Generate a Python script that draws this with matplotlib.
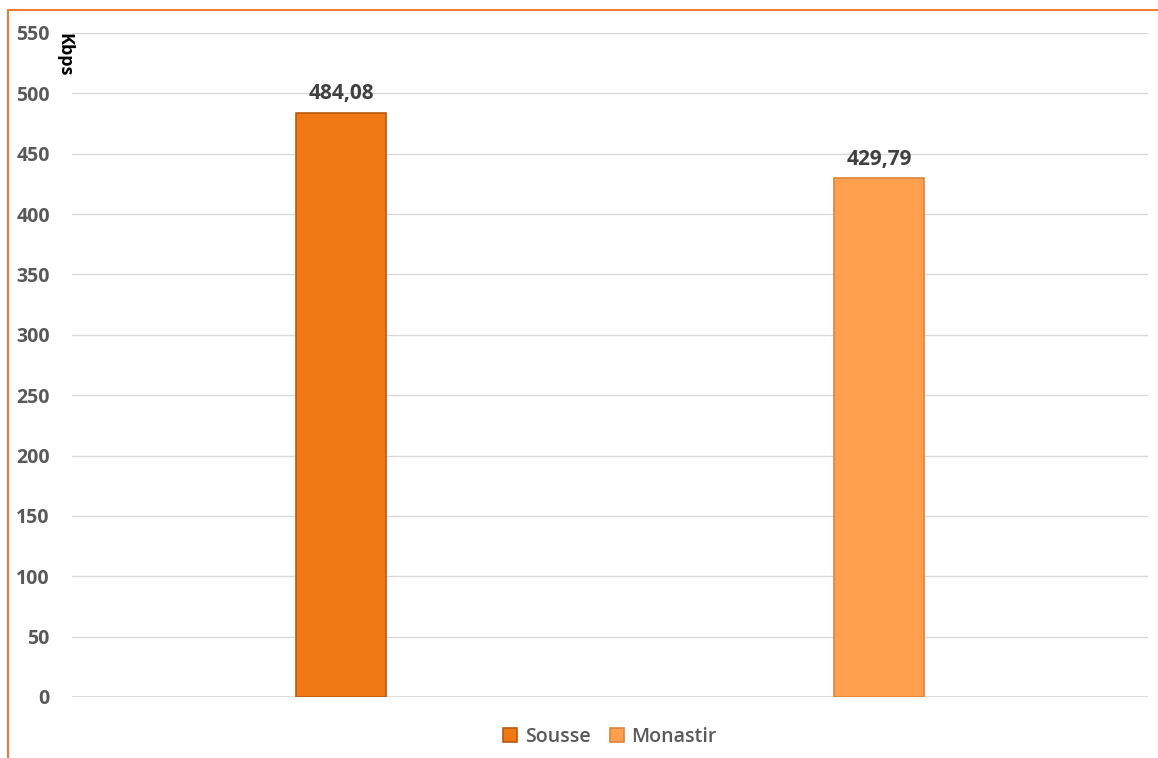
import matplotlib
matplotlib.use("Agg")
import matplotlib.pyplot as plt
from matplotlib.patches import Rectangle

plt.rcParams["font.family"] = ["Open Sans", "DejaVu Sans"]

cities = ["Sousse", "Monastir"]
debit = [484.08, 429.79]
labels = ["484,08", "429,79"]
colors = ["#F07714", "#FFA04F"]
edges = ["#B85A10", "#D98540"]
yticks = list(range(0, 551, 50))

fig = plt.figure(figsize=(11.58, 7.58), dpi=100)
ax = fig.add_axes([72 / 1158, 1 - 697 / 758, 1076 / 1158, 664 / 758])

for i, (v, c, e, lab) in enumerate(zip(debit, colors, edges, cities)):
    ax.bar(i, v, width=0.167, color=c, edgecolor=e, linewidth=1.2, label=lab, zorder=3)
    ax.text(i, v + 7, labels[i], ha="center", va="bottom", fontsize=15,
            fontweight="bold", color="#404040")

ax.set_xlim(-0.5, 1.5)
ax.set_ylim(0, 550)
ax.set_yticks(yticks)
ax.set_yticklabels([str(t) for t in yticks], fontsize=14, fontweight="bold", color="#595959")
ax.set_xticks([])
ax.tick_params(axis="y", length=0, pad=16)
ax.grid(axis="y", color="#D9D9D9", linewidth=1, zorder=0)
for s in ax.spines.values():
    s.set_visible(False)
ax.axhline(0, color="#D9D9D9", linewidth=1.2, zorder=1)

fig.text(64 / 1158, 1 - 55 / 758, "Kbps", rotation=-90, ha="center", va="center",
         fontsize=13, fontweight="bold", color="black")

leg = ax.legend(loc="center", bbox_to_anchor=(0.5, -(737 - 697) / 664), ncol=2,
                frameon=False, fontsize=14, handlelength=0.7, handleheight=0.7,
                columnspacing=1.0, handletextpad=0.4)
for t in leg.get_texts():
    t.set_color("#595959")
    t.set_fontweight("semibold")

# orange chart border (top and left only visible)
fig.add_artist(Rectangle((8 / 1158, -0.1), 1.2, 1 - 10.5 / 758 + 0.1,
                         transform=fig.transFigure, fill=False,
                         edgecolor="#ED7D31", linewidth=1.5))

fig.savefig("out.png", dpi=100)
